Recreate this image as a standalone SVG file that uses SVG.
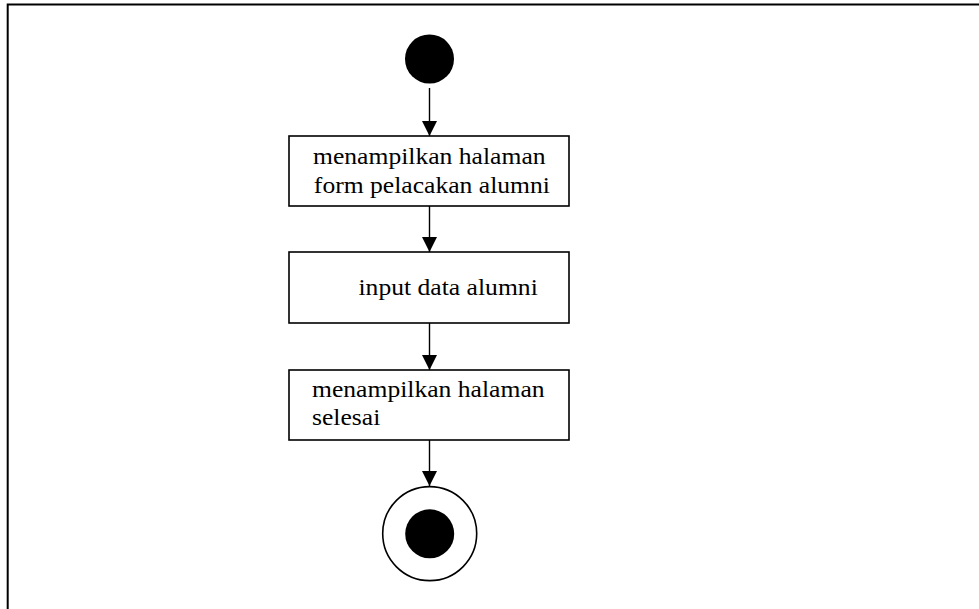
<svg xmlns="http://www.w3.org/2000/svg" width="979" height="609" viewBox="0 0 979 609">
  <style>
    .frame { fill: none; stroke: #000; stroke-width: 2; }
    .box { fill: #fff; stroke: #000; stroke-width: 1.6; }
    .label { font-family: 'Liberation Serif', serif; font-size: 23.5px; fill: #000; }
    .flow { stroke: #000; stroke-width: 1.4; fill: none; marker-end: url(#arrow); }
  </style>
  <defs>
    <marker id="arrow" markerUnits="userSpaceOnUse" markerWidth="16" markerHeight="16" refX="15" refY="7.5" orient="auto">
      <path d="M0,0 L15,7.5 L0,15 Z" fill="#000"/>
    </marker>
  </defs>

  <rect width="979" height="609" fill="#fff"/>
  <!-- outer frame: left and top edges -->
  <path class="frame" d="M7.7,609 V4.4 H979"/>

  <g id="connectors">
    <line class="flow" x1="429.5" y1="88" x2="429.5" y2="136"/>
    <line class="flow" x1="429.5" y1="206" x2="429.5" y2="252"/>
    <line class="flow" x1="429.5" y1="323" x2="429.5" y2="370"/>
    <line class="flow" x1="429.5" y1="440" x2="429.5" y2="486"/>
  </g>

  <g id="start">
    <circle cx="429.5" cy="59" r="24.5" fill="#000"/>
  </g>

  <!-- labels are set in a slightly widened serif (x scaled by 1.09) -->
  <g id="tampil-form">
    <rect class="box" x="289" y="136" width="280" height="70"/>
    <g transform="translate(313 0) scale(1.09 1)">
      <text class="label" x="0" y="164">menampilkan halaman</text>
      <text class="label" x="0.8" y="193">form pelacakan alumni</text>
    </g>
  </g>

  <g id="input-data">
    <rect class="box" x="289" y="252" width="280" height="71"/>
    <g transform="translate(358.5 0) scale(1.09 1)">
      <text class="label" x="0" y="295">input data alumni</text>
    </g>
  </g>

  <g id="tampil-selesai">
    <rect class="box" x="289" y="370" width="280" height="70"/>
    <g transform="translate(312 0) scale(1.09 1)">
      <text class="label" x="0" y="397">menampilkan halaman</text>
      <text class="label" x="0" y="425">selesai</text>
    </g>
  </g>

  <g id="end">
    <circle cx="429.7" cy="533.6" r="47" fill="#fff" stroke="#000" stroke-width="1.6"/>
    <circle cx="429.7" cy="533.8" r="24.5" fill="#000"/>
  </g>
</svg>
